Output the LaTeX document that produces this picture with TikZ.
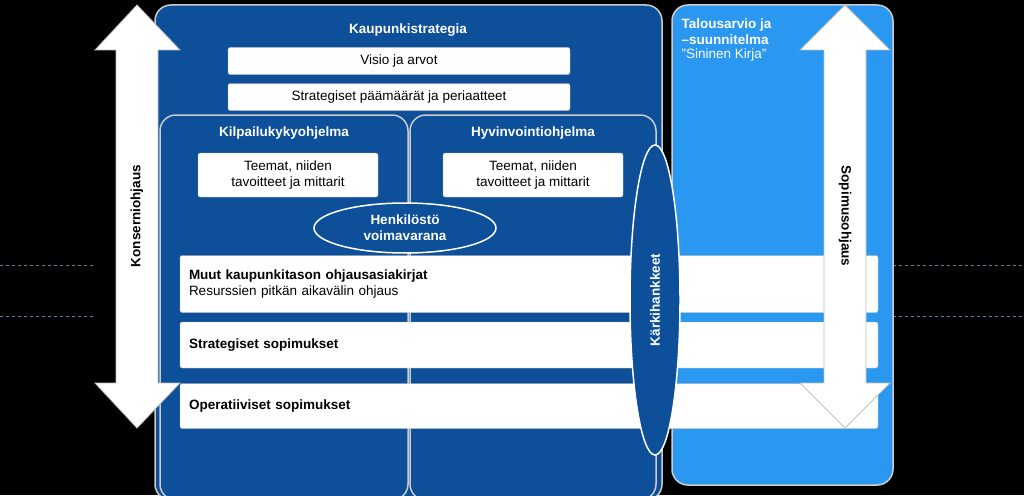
\documentclass[tikz,border=0pt]{standalone}
\usepackage{fontspec}
\setmainfont{Liberation Sans}
\usetikzlibrary{positioning,shapes,arrows}
\definecolor{darkblue}{HTML}{0D4F98}
\definecolor{lightblue}{HTML}{2A97F0}
\begin{document}
\begin{tikzpicture}[x=1pt,y=-1pt,
    panel/.style={
      rounded corners=3ex, draw=gray!40, line width=1.5pt, fill=darkblue
    },
    whitebox/.style={
      rounded corners=0.4ex, draw=gray!60, fill=white, text=black,
      font=\fontsize{13.5}{16}\selectfont, align=center
    },
    bar/.style={whitebox, minimum width=698pt, align=left, text width=680pt},
    title/.style={text=white, font=\bfseries\fontsize{13.5}{16}\selectfont},
    bigarrow/.style={draw=gray!50, line width=0.8pt, fill=white},
    oval/.style={ellipse, draw=white, line width=1.5pt, fill=darkblue,
      text=white, font=\bfseries\fontsize{13.5}{16}\selectfont, align=center, inner sep=0pt},
    dashline/.style={draw=darkblue!70, dashed, line width=0.8pt},
  ]
    \fill[black] (0,0) rectangle (1024,495);
    \useasboundingbox (0,0) rectangle (1024,495);

    % dashed guide lines
    \draw[dashline] (0,265) -- (95,265);
    \draw[dashline] (0,316) -- (95,316);
    \draw[dashline] (893,265) -- (1024,265);
    \draw[dashline] (893,316) -- (1024,316);

    % panels
    \draw[panel] (155,5) rectangle (662,500);
    \draw[panel, fill=lightblue] (672,5) rectangle (893,485);
    \draw[panel] (160,115) rectangle (408,500);
    \draw[panel] (410,115) rectangle (656,500);

    \node[title] (strategia) at (408,30) {Kaupunkistrategia};
    \node[title, anchor=north west, align=left] (talous) at (678,15)
      {Talousarvio ja\\–suunnitelma\\[-2pt]\mdseries ”Sininen Kirja”};
    \node[title] (kilpailu) at (284,133) {Kilpailukykyohjelma};
    \node[title] (hyvinvointi) at (533,133) {Hyvinvointiohjelma};

    \node[whitebox, minimum width=342pt, minimum height=27pt] (visio) at (399,61) {Visio ja arvot};
    \node[whitebox, minimum width=342pt, minimum height=27pt] (paamaarat) at (399,97) {Strategiset päämäärät ja periaatteet};
    \node[whitebox, minimum width=180pt, minimum height=44pt] (teemat1) at (288,175) {Teemat, niiden\\tavoitteet ja mittarit};
    \node[whitebox, minimum width=180pt, minimum height=44pt] (teemat2) at (533,175) {Teemat, niiden\\tavoitteet ja mittarit};

    \node[oval, minimum width=182pt, minimum height=50pt] (henkilosto) at (405,228) {Henkilöstö\\voimavarana};

    % bars
    \node[bar, minimum height=57pt] (muut) at (529,284)
      {\textbf{Muut kaupunkitason ohjausasiakirjat}\\Resurssien pitkän aikavälin ohjaus};
    \node[bar, minimum height=46pt] (sopimukset) at (529,345) {\textbf{Strategiset sopimukset}};
    \node[bar, minimum height=45pt] (operatiiviset) at (529,406) {\textbf{Operatiiviset sopimukset}};

    \node[oval, minimum width=50pt, minimum height=310pt] (karki) at (655,300) {};
    \node[text=white, font=\bfseries\fontsize{13.5}{16}\selectfont, rotate=90] (karkilabel) at (655,300) {Kärkihankkeet};

    % arrows
    \draw[bigarrow] (137,5) -- (180,50) -- (158,50) -- (158,383) -- (180,383)
      -- (137,428) -- (95,383) -- (116,383) -- (116,50) -- (95,50) -- cycle;
    \node[rotate=90, font=\bfseries\fontsize{13.5}{16}\selectfont] (konsernilabel) at (137,216) {Konserniohjaus};
    \draw[bigarrow] (845,5) -- (890,50) -- (866,50) -- (866,383) -- (890,383)
      -- (845,428) -- (800,383) -- (824,383) -- (824,50) -- (800,50) -- cycle;
    \node[rotate=-90, font=\bfseries\fontsize{13.5}{16}\selectfont] (sopimuslabel) at (845,216) {Sopimusohjaus};
  \end{tikzpicture}
\end{document}
